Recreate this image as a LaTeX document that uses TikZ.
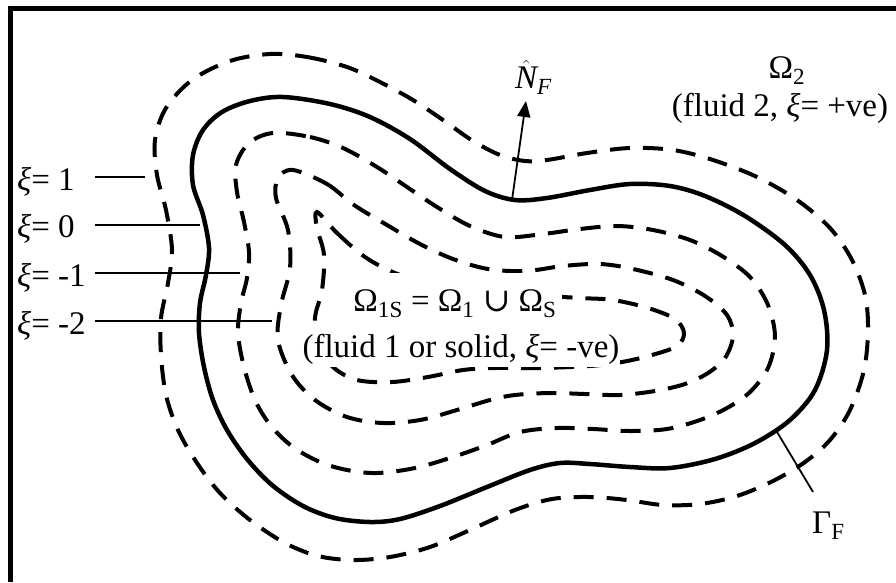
\documentclass[tikz,border=0pt]{standalone}
\usepackage{fontspec}
\setmainfont{Liberation Serif}
\newfontfamily\symfont{DejaVu Serif}
\usetikzlibrary{arrows.meta}
\begin{document}
\begin{tikzpicture}[x=1pt,y=-1pt,
  lvl/.style={line width=4pt, dash pattern=on 20pt off 13pt},
  zero/.style={line width=4.5pt},
  lbl/.style={font=\fontsize{33}{40}\selectfont, inner sep=0pt},
  leader/.style={line width=1.6pt},
  txtbox/.style={fill=white, font=\fontsize{33}{40}\selectfont, inner ysep=0pt}
]
\useasboundingbox (0,0) rectangle (896,582);
% frame (top and left)
\draw[line width=5pt] (10.5,582) -- (10.5,8.5) -- (896,8.5);
% xi = 1
\draw[lvl] plot[smooth cycle, tension=0.55] coordinates {
(270,54) (307,57) (347,67) (380,82) (413,100) (443,120) (473,141) (500,155) (525,161) (547,160) (587,153) (630,148) (673,150) (713,160) (757,177) (797,200) (830,228) (852,260) (865,295) (868,330) (864,370) (850,410) (830,440) (805,462) (773,481) (737,496) (700,504) (663,505) (627,500) (590,497) (552,499) (515,510) (470,530) (430,547) (390,557) (353,560) (318,556) (285,543) (250,520) (220,493) (197,463) (178,430) (166,395) (161,355) (161,318) (168,283) (172,250) (166,210) (157,175) (155,140) (166,108) (192,80) (230,61)};
% xi = 0
\draw[zero] plot[smooth cycle, tension=0.55] coordinates {
(283,97) (330,104) (370,117) (410,139) (450,169) (485,191) (515,200) (547,198) (590,190) (630,184) (670,186) (705,196) (745,216) (785,245) (810,275) (824,310) (827,350) (815,390) (790,420) (755,443) (715,459) (670,468) (630,467) (590,464) (560,463) (530,470) (487,487) (440,506) (400,519) (370,522) (335,518) (303,506) (272,485) (247,459) (227,430) (213,400) (204,367) (199,333) (200,303) (206,275) (209,248) (203,215) (193,185) (193,155) (203,130) (222,112) (250,101)};
% xi = -1
\draw[lvl] plot[smooth cycle, tension=0.55] coordinates {
(273,133) (310,137) (343,148) (377,167) (407,187) (437,207) (470,226) (505,237) (543,234) (580,229) (617,226) (653,230) (690,240) (722,256) (750,277) (768,305) (775,337) (768,368) (750,392) (727,408) (700,420) (667,429) (630,431) (593,429) (557,428) (520,432) (487,445) (453,457) (415,468) (377,473) (347,470) (320,462) (293,447) (271,426) (255,400) (244,367) (238,333) (241,303) (247,278) (249,252) (244,222) (237,192) (236,165) (249,143)};
% xi = -2
\draw[lvl] plot[smooth cycle, tension=0.55] coordinates {
(293,170) (327,184) (354,205) (387,225) (420,244) (453,259) (488,269) (526,271) (563,266) (600,264) (633,269) (673,280) (705,296) (727,315) (733,336) (725,358) (708,373) (685,384) (655,391) (620,395) (585,394) (550,393) (515,395) (490,400) (457,410) (420,420) (383,423) (347,417) (315,400) (292,375) (278,340) (281,305) (290,268) (288,230) (276,198) (278,178)};
% innermost
\draw[lvl] plot[smooth cycle, tension=0.55] coordinates {
(317,212) (337,233) (365,257) (395,273) (430,284) (470,291) (530,295) (580,298) (613,300) (648,308) (675,319) (684,333) (677,346) (652,355) (622,362) (590,366) (540,368) (495,368) (463,370) (428,377) (392,382) (357,380) (333,367) (319,345) (315,318) (322,290) (324,255) (317,228)};
% region texts
\node[txtbox, anchor=base, inner xsep=5pt, text height=38pt, text depth=10pt] (om1s) at (455,311)
  {Ω\textsubscript{1S} = Ω\textsubscript{1} {\symfont ∪} Ω\textsubscript{S}};
\node[txtbox, anchor=base, inner xsep=1pt, text height=34pt, text depth=10pt] (fl1) at (461,357)
  {(fluid 1 or solid, {\itshape ξ}= -ve)};
\node[lbl, anchor=base] (om2) at (787,78) {Ω\textsubscript{2}};
\node[lbl, anchor=base] (fl2) at (780,116) {(fluid 2, {\itshape ξ}= +ve)};
% level labels
\node[lbl, anchor=base west] (x1) at (17,190) {{\itshape ξ}= 1};
\node[lbl, anchor=base west] (x0) at (17,237) {{\itshape ξ}= 0};
\node[lbl, anchor=base west] (xm1) at (17,286) {{\itshape ξ}= -1};
\node[lbl, anchor=base west] (xm2) at (17,334) {{\itshape ξ}= -2};
\coordinate (l1a) at (95,177); \coordinate (l1b) at (145,177);
\coordinate (l2a) at (95,225); \coordinate (l2b) at (200,225);
\coordinate (l3a) at (95,273); \coordinate (l3b) at (240,273);
\coordinate (l4a) at (95,321); \coordinate (l4b) at (272,321);
\draw[leader] (l1a) -- (l1b);
\draw[leader] (l2a) -- (l2b);
\draw[leader] (l3a) -- (l3b);
\draw[leader] (l4a) -- (l4b);
% normal
\coordinate (nb) at (512,200); \coordinate (nt) at (526,101);
\draw[line width=1.8pt, -{Triangle[length=16pt,width=13pt]}] (nb) -- (nt);
\node[lbl, anchor=base west] (nf) at (515,88) {$\hat{\textit{N}}$\textsubscript{\itshape F}};
% Gamma_F
\coordinate (ga) at (777,432); \coordinate (gb) at (813,492);
\draw[line width=1.8pt] (ga) -- (gb);
\node[lbl, anchor=base west] (gf) at (812,533) {Γ\textsubscript{F}};
\end{tikzpicture}
\end{document}
